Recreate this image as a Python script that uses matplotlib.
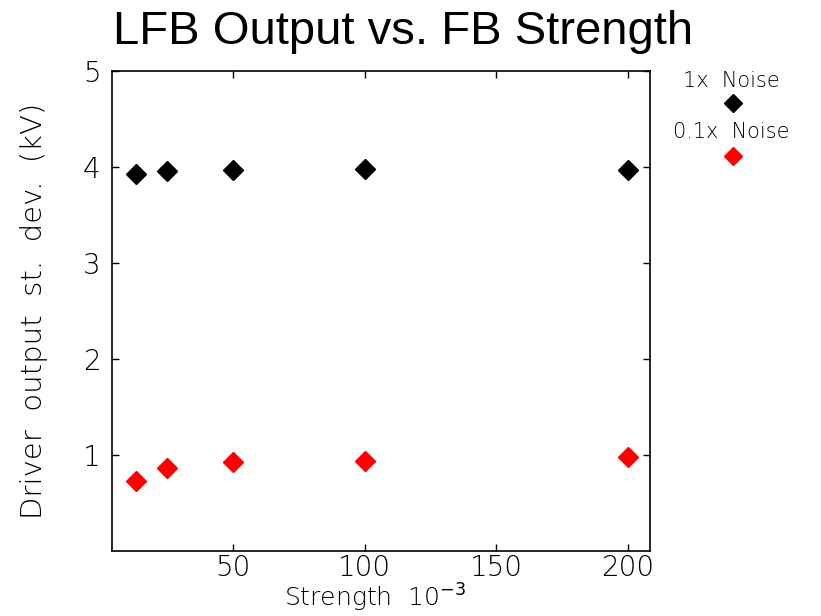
import matplotlib.pyplot as plt

strength = [13, 25, 50, 100, 200]
noise_1x = [3.92, 3.95, 3.97, 3.98, 3.97]
noise_01x = [0.73, 0.86, 0.93, 0.94, 0.975]
legend_labels = ["1x  Noise", "0.1x  Noise"]
colors = ["black", "red"]

plt.rcParams["font.family"] = "DejaVu Sans"

fig = plt.figure(figsize=(8.21, 6.16), dpi=100)
ax = fig.add_axes([0.136, 0.1055, 0.656, 0.78])

ax.plot(strength, noise_1x, "D", color=colors[0], markersize=10, linestyle="none")
ax.plot(strength, noise_01x, "D", color=colors[1], markersize=10, linestyle="none")

ax.set_xlim(3.9, 208.5)
ax.set_ylim(0, 5)
ax.set_xticks([50, 100, 150, 200])
ax.set_yticks([1, 2, 3, 4, 5])
ax.tick_params(axis="both", direction="in", length=5, width=1, top=True, right=True,
               labelsize=20)
ax.tick_params(axis="x", pad=2)
ax.tick_params(axis="y", pad=8)
for lbl in ax.get_xticklabels() + ax.get_yticklabels():
    lbl.set_fontweight("light")
for s in ax.spines.values():
    s.set_linewidth(1.2)

ax.set_xlabel("Strength  10$^{-3}$", fontsize=18, fontweight="light")
ax.set_ylabel("Driver  output  st.  dev.  (kV)", fontsize=21, fontweight="light")
ax.xaxis.set_label_coords(0.489, -0.064)
ax.yaxis.set_label_coords(-0.118, 0.5)

fig.text(0.138, 0.928, "LFB Output vs. FB Strength", fontsize=34,
         family="Liberation Sans", va="baseline", ha="left")

# legend drawn by hand to the right of the plot
ys_text = [0.869, 0.786]
ys_mark = [0.833, 0.747]
for lab, c, yt, ym in zip(legend_labels, colors, ys_text, ys_mark):
    fig.text(0.891, yt, lab, fontsize=15, fontweight="light", ha="center", va="center")
    fig.lines.append(plt.Line2D([0.893], [ym], marker="D", color=c, markersize=9,
                                linestyle="none", transform=fig.transFigure))

fig.savefig("out.png", dpi=100)
